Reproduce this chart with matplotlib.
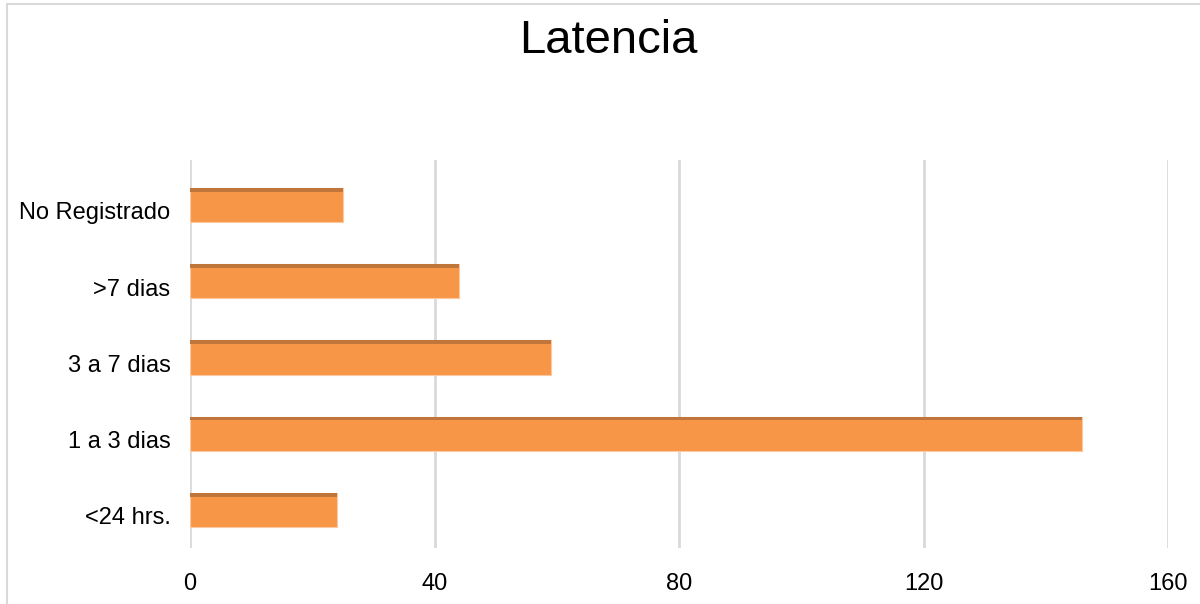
import matplotlib.pyplot as plt
import matplotlib.transforms as mtransforms
from matplotlib.patches import Rectangle

# Data
categories = ["<24 hrs.", "1 a 3 dias", "3 a 7 dias", ">7 dias", "No Registrado"]
values = [24, 146, 59, 44, 25]
x_ticks = [0, 40, 80, 120, 160]

plt.rcParams['font.family'] = ['Liberation Sans', 'DejaVu Sans']

fig = plt.figure(figsize=(12, 6.04), dpi=100)
ax = fig.add_axes([190 / 1200, 1 - 548 / 604, 978 / 1200, 388 / 604])

# chart border
fig.patches.append(Rectangle((7 / 1200, -0.05), 1.2, 1 - 4 / 604 + 0.05, transform=fig.transFigure,
                             fill=False, edgecolor="#D9D9D9", linewidth=1.5))

ypos = range(len(categories))
bar_h = 0.45
ax.barh(ypos, values, height=bar_h, color="#F79646", edgecolor="#FBC8A0", linewidth=0.8, zorder=3)
# darker top strip on each bar
ax.barh([y + bar_h / 2 - 0.025 for y in ypos], values, height=0.05, color="#C0763A", linewidth=0, zorder=4)

ax.set_xlim(0, 160)
ax.set_ylim(-0.5, 4.59)
ax.set_xticks(x_ticks)
ax.set_xticklabels([str(t) for t in x_ticks], fontsize=17)
ax.set_yticks(list(ypos))
ax.set_yticklabels(categories, fontsize=17)
ax.tick_params(axis="y", length=0, pad=14)
ax.tick_params(axis="x", length=0, pad=18)

# labels sit a little below the bar centres, like the original
shift = mtransforms.ScaledTranslation(0, -6 / 100, fig.dpi_scale_trans)
for lab in ax.get_yticklabels():
    lab.set_transform(lab.get_transform() + shift)

ax.grid(axis="x", color="#D9D9D9", linewidth=2, zorder=0)
for s in ax.spines.values():
    s.set_visible(False)

fig.text(608 / 1200, 1 - 41 / 604, "Latencia", fontsize=34, ha="center", va="center")

fig.savefig("out.png", dpi=100)
